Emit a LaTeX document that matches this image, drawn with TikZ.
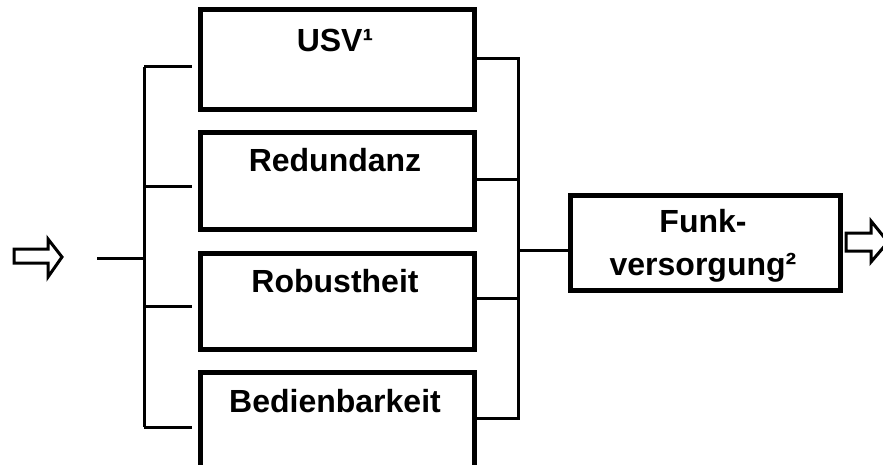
\documentclass[tikz,border=0pt]{standalone}
\usepackage{fontspec}
\setmainfont{Liberation Sans}
\begin{document}
\begin{tikzpicture}[x=1pt,y=-1pt,
  block/.style={draw,line width=5pt,minimum width=274pt,anchor=north west,inner sep=0pt},
  wire/.style={line width=3pt},
  hollow/.style={draw,line width=3pt,line join=miter},
  lbl/.style={font=\bfseries\fontsize{32}{36}\selectfont,anchor=base,inner sep=0pt}]
\useasboundingbox (0,0) rectangle (883,465);
\clip (0,0) rectangle (883,465);

% four parallel measure boxes
\node[block,minimum height=100pt] (usv) at (198,7) {};
\node[block,minimum height=97pt]  (red) at (198,130) {};
\node[block,minimum height=96pt]  (rob) at (198,251) {};
\node[block,minimum height=100pt] (bed) at (198,370) {};
\node[lbl] (tusv) at (335,52) {USV¹};
\node[lbl] (tred) at (335,172) {Redundanz};
\node[lbl] (trob) at (335,292) {Robustheit};
\node[lbl] (tbed) at (335,412) {Bedienbarkeit};

% result box
\node[draw,line width=5pt,minimum width=270pt,minimum height=95pt,anchor=north west,inner sep=0pt] (funk) at (568,193) {};
\node[lbl] (tf1) at (703,233) {Funk-};
\node[lbl] (tf2) at (703,275) {versorgung²};

% left distribution bracket
\coordinate (lin) at (97,258);
\coordinate (ltop) at (144,67);
\coordinate (lbot) at (144,427);
\draw[wire] (lin) -- (144,258);
\draw[wire] (ltop) -- (lbot);
\draw[wire] (144,67) -- (192,67);
\draw[wire] (144,187) -- (192,187);
\draw[wire] (144,306) -- (192,306);
\draw[wire] (144,427) -- (192,427);

% right collecting bracket
\coordinate (rtop) at (518,59);
\coordinate (rbot) at (518,418);
\draw[wire,line join=miter] (usv.east |- rtop) -- (rtop) -- (rbot) -- (bed.east |- rbot);
\draw[wire] (red.east |- 0,180) -- (518,180);
\draw[wire] (rob.east |- 0,298) -- (518,298);
\draw[wire] (518,250) -- (funk.west |- 0,250);

% hollow flow arrows
\draw[hollow] (14,249) -- (48,249) -- (48,239) -- (62,257) -- (48,277) -- (48,263) -- (14,263) -- cycle;
\draw[hollow] (846,233) -- (871,233) -- (871,221) -- (888,242) -- (871,262) -- (871,251) -- (846,251) -- cycle;
\end{tikzpicture}
\end{document}
